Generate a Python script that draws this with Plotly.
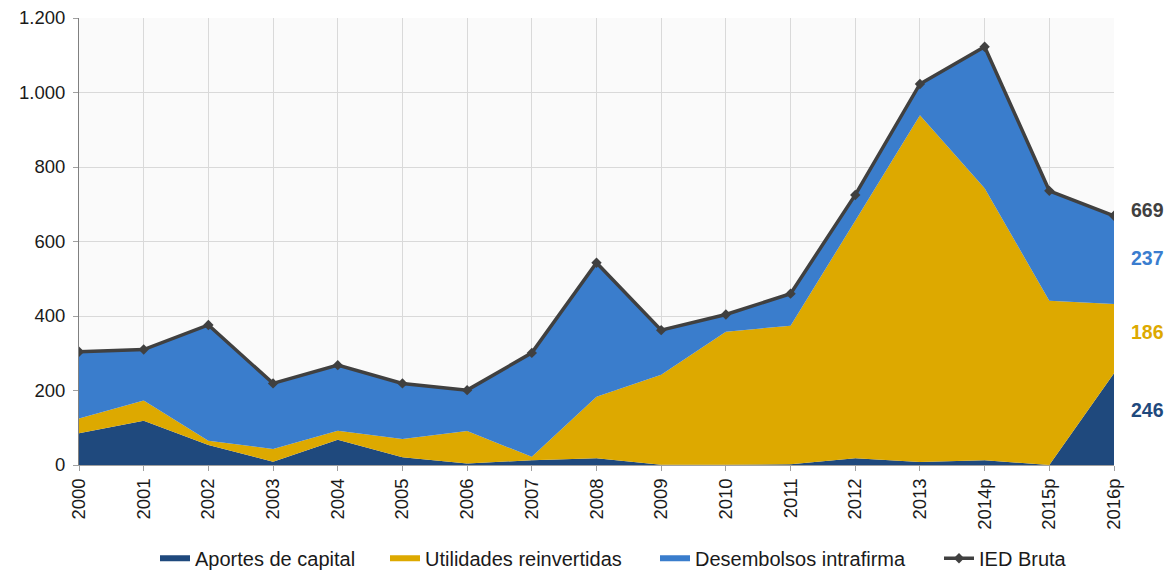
import plotly.graph_objects as go

years = ["2000", "2001", "2002", "2003", "2004", "2005", "2006", "2007", "2008",
         "2009", "2010", "2011", "2012", "2013", "2014p", "2015p", "2016p"]
aportes = [85, 119, 54, 9, 68, 21, 4, 13, 18, 1, 1, 2, 18, 8, 13, 0, 246]
utilidades = [40, 54, 11, 34, 24, 49, 87, 9, 165, 241, 357, 372, 638, 931, 730, 441, 186]
desembolsos = [179, 137, 311, 176, 176, 149, 110, 279, 360, 120, 46, 86, 69, 84, 380, 295, 237]
ied_bruta = [304, 310, 376, 219, 268, 219, 201, 301, 543, 362, 404, 460, 725, 1023, 1123, 736, 669]

end_labels = [("669", "#404040", 684), ("237", "#3A7DCF", 556), ("186", "#DDA900", 358), ("246", "#1F497D", 148)]

C_AP = "#1F497D"
C_UT = "#DDA900"
C_DE = "#3A7DCC"
C_LN = "#404040"
FONT = "Liberation Sans, Arial, sans-serif"
W, H = 1174, 572

fig = go.Figure()
fig.add_trace(go.Scatter(x=years, y=aportes, name="Aportes de capital", stackgroup="s",
                         mode="none", fillcolor=C_AP, line=dict(width=0), legend="legend"))
fig.add_trace(go.Scatter(x=years, y=utilidades, name="Utilidades reinvertidas", stackgroup="s",
                         mode="none", fillcolor=C_UT, line=dict(width=0), legend="legend2"))
fig.add_trace(go.Scatter(x=years, y=desembolsos, name="Desembolsos intrafirma", stackgroup="s",
                         mode="none", fillcolor=C_DE, line=dict(width=0), legend="legend3"))
fig.add_trace(go.Scatter(x=years, y=ied_bruta, name="IED Bruta", mode="lines+markers",
                         line=dict(color=C_LN, width=3.5),
                         marker=dict(symbol="diamond", size=8, color=C_LN), legend="legend4"))

for txt, col, yv in end_labels:
    fig.add_annotation(x=16, y=yv, xref="x", yref="y", text="<b>%s</b>" % txt,
                       showarrow=False, xanchor="left", xshift=15,
                       font=dict(size=19.5, color=col, family=FONT))


def leg(px_left):
    return dict(orientation="h", x=px_left / W, xanchor="left", xref="container",
                y=0.024, yanchor="middle", yref="container",
                font=dict(size=20, family=FONT, color="#1a1a1a"),
                bgcolor="rgba(0,0,0,0)", borderwidth=0)


fig.update_layout(
    width=W, height=H,
    margin=dict(l=79, r=60, t=18, b=107),
    paper_bgcolor="white",
    plot_bgcolor="#FAFAFA",
    separators=",.",
    font=dict(family=FONT, size=20, color="#1a1a1a"),
    showlegend=True,
    legend=leg(155), legend2=leg(385), legend3=leg(655), legend4=leg(939),
    xaxis=dict(type="category", range=[0, 16], tickangle=-90,
               showgrid=True, gridcolor="#D9D9D9", gridwidth=1,
               showline=True, linecolor="#A0A0A0", linewidth=1,
               ticks="outside", ticklen=5, tickcolor="#A0A0A0",
               tickfont=dict(size=18.5), zeroline=False, automargin=False),
    yaxis=dict(range=[0, 1200], dtick=200, tickformat=",d",
               showgrid=True, gridcolor="#D9D9D9", gridwidth=1,
               showline=True, linecolor="#808080", linewidth=1,
               ticks="outside", ticklen=5, tickcolor="#A0A0A0", ticklabelstandoff=4,
               tickfont=dict(size=18.5), zeroline=False, automargin=False),
)

fig.write_html("out.html", config={"displayModeBar": False},
               post_script="document.body.style.margin='0';")
